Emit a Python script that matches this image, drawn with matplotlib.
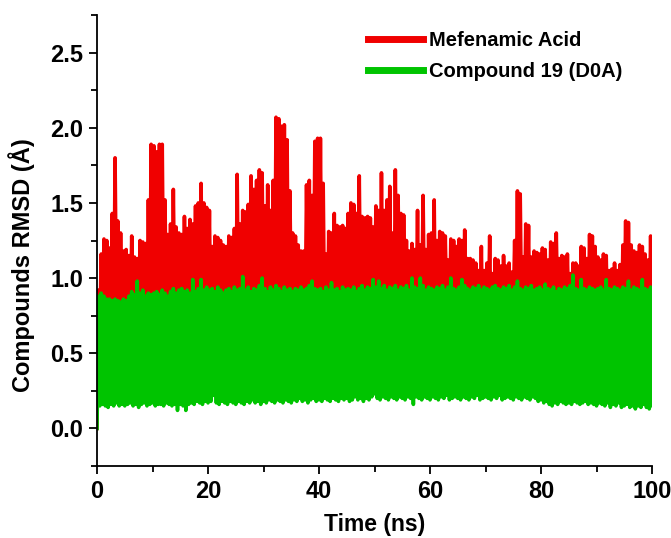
import numpy as np
import matplotlib
matplotlib.use("Agg")
import matplotlib.pyplot as plt
from matplotlib.ticker import MultipleLocator

# time grid (ns), 0.5 ns sampling
time_ns = np.arange(0, 100.01, 0.5)

# Mefenamic Acid RMSD: upper excursions and lower excursions (Å)
red_hi = [
    0.92,1.16,1.26,1.25,1.20,1.43,1.80,1.38,1.30,1.18,
    1.19,1.15,1.28,1.14,1.13,1.25,1.24,1.23,1.52,1.89,
    1.88,1.84,1.89,1.89,1.52,1.29,1.36,1.59,1.34,1.30,
    1.29,1.41,1.33,1.39,1.36,1.48,1.50,1.63,1.50,1.47,
    1.45,1.21,1.28,1.27,1.25,1.22,1.21,1.28,1.27,1.33,
    1.69,1.36,1.45,1.44,1.49,1.68,1.59,1.65,1.72,1.70,
    1.48,1.62,1.45,1.65,2.07,2.06,2.01,2.02,1.92,1.58,
    1.30,1.28,1.22,1.18,1.18,1.62,1.65,1.55,1.91,1.93,
    1.93,1.63,1.16,1.31,1.30,1.43,1.35,1.34,1.35,1.33,
    1.43,1.50,1.49,1.43,1.68,1.41,1.40,1.41,1.40,1.34,
    1.48,1.45,1.70,1.45,1.52,1.61,1.30,1.72,1.55,1.43,
    1.42,1.25,1.18,1.23,1.19,1.45,1.22,1.55,1.19,1.29,
    1.30,1.52,1.25,1.31,1.30,1.28,1.12,1.26,1.25,1.21,
    1.26,1.25,1.32,1.13,1.13,1.12,1.10,1.05,1.21,1.05,
    1.10,1.28,1.03,1.13,1.12,1.08,1.15,1.08,1.10,1.04,
    1.25,1.58,1.56,1.14,1.36,1.35,1.14,1.18,1.17,1.16,
    1.20,1.19,1.12,1.24,1.23,1.30,1.13,1.15,1.14,1.16,
    1.03,1.10,1.10,1.08,1.21,1.20,1.13,1.29,1.28,1.21,
    1.14,1.12,1.16,1.15,1.05,1.06,1.10,1.05,1.09,1.22,
    1.38,1.37,1.22,1.18,1.17,1.22,1.21,1.16,1.12,1.28,
    1.27,
]
red_lo = [
    0.00,0.62,0.71,0.58,0.75,0.66,0.52,0.78,0.60,0.69,
    0.73,0.55,0.68,0.79,0.61,0.70,0.57,0.76,0.64,0.72,
    0.59,0.74,0.66,0.53,0.77,0.63,0.71,0.58,0.80,0.65,
    0.70,0.56,0.75,0.62,0.68,0.79,0.54,0.72,0.66,0.60,
    0.77,0.63,0.58,0.74,0.69,0.55,0.78,0.61,0.71,0.67,
    0.57,0.75,0.64,0.80,0.59,0.70,0.66,0.52,0.76,0.62,
    0.73,0.68,0.56,0.79,0.63,0.71,0.58,0.75,0.65,0.60,
    0.78,0.54,0.69,0.74,0.61,0.67,0.80,0.57,0.72,0.64,
    0.59,0.76,0.66,0.53,0.70,0.78,0.62,0.68,0.55,0.74,
    0.71,0.60,0.77,0.65,0.58,0.73,0.63,0.79,0.56,0.69,
    0.75,0.61,0.67,0.72,0.54,0.78,0.64,0.59,0.76,0.70,
    0.57,0.73,0.66,0.80,0.62,0.68,0.55,0.74,0.71,0.60,
    0.77,0.63,0.58,0.75,0.69,0.53,0.79,0.65,0.72,0.61,
    0.67,0.56,0.76,0.70,0.59,0.74,0.64,0.78,0.62,0.57,
    0.73,0.68,0.55,0.80,0.66,0.71,0.60,0.75,0.63,0.58,
    0.77,0.69,0.54,0.72,0.65,0.79,0.61,0.67,0.56,0.74,
    0.70,0.59,0.76,0.63,0.68,0.57,0.78,0.66,0.71,0.60,
    0.75,0.62,0.55,0.73,0.69,0.58,0.77,0.64,0.80,0.61,
    0.67,0.72,0.56,0.74,0.63,0.70,0.59,0.76,0.65,0.60,
    0.78,0.57,0.71,0.66,0.62,0.75,0.54,0.69,0.73,0.64,
    0.68,
]

# Compound 19 (D0A) RMSD: upper and lower excursions (Å)
green_hi = [
    0.88,0.90,0.88,0.86,0.86,0.85,0.86,0.85,0.84,0.86,
    0.85,0.88,0.91,0.89,0.98,0.90,0.92,0.88,0.90,0.89,
    0.90,0.91,0.89,0.92,0.90,0.88,0.91,0.93,0.90,0.92,
    0.93,0.91,0.92,0.90,0.99,0.91,0.93,0.99,0.92,0.94,
    0.92,0.93,0.91,0.94,0.92,0.90,0.92,0.93,0.91,0.94,
    0.92,0.93,1.01,0.92,0.94,0.91,0.93,0.92,0.95,1.00,
    0.93,0.91,0.94,0.92,0.95,0.93,0.91,0.94,0.92,0.93,
    0.91,0.93,0.92,0.94,0.92,0.93,0.95,0.98,0.93,0.92,
    0.93,0.91,0.94,0.92,0.97,0.92,0.93,0.91,0.94,0.92,
    0.93,0.92,0.94,0.91,0.93,0.95,0.92,0.94,0.93,0.99,
    0.94,0.98,0.93,0.95,0.92,0.94,0.93,0.95,0.92,0.94,
    0.93,0.95,0.92,1.00,0.94,0.93,1.00,0.95,0.92,0.94,
    0.93,0.92,0.94,0.93,0.95,0.92,0.94,1.00,0.93,0.92,
    0.94,0.99,0.95,0.93,0.92,0.94,0.93,0.95,0.92,0.94,
    0.93,0.92,0.94,0.95,0.93,0.92,0.94,0.93,0.95,0.92,
    0.94,0.98,0.93,0.92,0.94,0.93,0.95,0.92,0.93,0.94,
    0.92,0.96,0.93,0.92,0.94,0.91,0.93,0.92,0.94,0.93,
    0.95,1.02,0.93,0.92,0.99,0.93,0.92,0.94,0.93,0.92,
    0.93,0.94,0.92,0.99,0.93,0.92,0.94,0.93,0.92,0.94,
    0.93,0.98,0.92,0.94,0.93,0.92,0.99,0.93,0.92,0.94,
    0.93,
]
green_lo = [
    0.00,0.15,0.16,0.15,0.14,0.16,0.15,0.17,0.15,0.16,
    0.15,0.16,0.17,0.15,0.16,0.14,0.16,0.17,0.15,0.16,
    0.17,0.15,0.16,0.16,0.15,0.17,0.16,0.15,0.16,0.12,
    0.16,0.15,0.12,0.16,0.17,0.16,0.18,0.17,0.16,0.18,
    0.17,0.18,0.22,0.17,0.16,0.18,0.17,0.16,0.18,0.17,
    0.16,0.18,0.17,0.16,0.18,0.17,0.19,0.17,0.18,0.16,
    0.18,0.17,0.19,0.18,0.17,0.19,0.18,0.17,0.19,0.18,
    0.17,0.19,0.18,0.20,0.18,0.19,0.17,0.19,0.20,0.18,
    0.19,0.18,0.20,0.19,0.18,0.20,0.19,0.18,0.20,0.19,
    0.20,0.18,0.19,0.21,0.19,0.20,0.18,0.20,0.19,0.21,
    0.23,0.20,0.19,0.21,0.20,0.19,0.21,0.20,0.19,0.21,
    0.20,0.19,0.21,0.20,0.16,0.21,0.20,0.19,0.21,0.20,
    0.19,0.21,0.20,0.19,0.21,0.20,0.22,0.19,0.20,0.21,
    0.20,0.19,0.21,0.20,0.19,0.21,0.20,0.22,0.19,0.20,
    0.21,0.20,0.19,0.21,0.20,0.22,0.19,0.20,0.21,0.20,
    0.19,0.21,0.20,0.19,0.21,0.20,0.19,0.21,0.20,0.18,
    0.19,0.17,0.18,0.16,0.15,0.17,0.16,0.18,0.17,0.16,
    0.17,0.16,0.18,0.17,0.16,0.17,0.18,0.16,0.17,0.16,
    0.15,0.17,0.16,0.15,0.17,0.14,0.16,0.15,0.17,0.14,
    0.15,0.16,0.14,0.15,0.13,0.15,0.14,0.16,0.14,0.13,
    0.15,
]

x_ticks = [0, 20, 40, 60, 80, 100]
y_ticks = [0.0, 0.5, 1.0, 1.5, 2.0, 2.5]
series_labels = ["Mefenamic Acid", "Compound 19 (D0A)"]
red_color = "#f00000"
green_color = "#00c400"

plt.rcParams['font.family'] = ['Liberation Sans', 'DejaVu Sans']
plt.rcParams['font.weight'] = 'bold'

fig = plt.figure(figsize=(6.71, 5.38), dpi=100)
ax = fig.add_axes([0.1446, 0.1338, 0.8271, 0.8383])

def interleave(lo, hi):
    t = np.column_stack([time_ns, time_ns + 0.25]).ravel()
    v = np.column_stack([np.asarray(lo), np.asarray(hi)]).ravel()
    return t, v

tr, vr = interleave(red_lo, red_hi)
tg, vg = interleave(green_lo, green_hi)
ax.plot(tr, vr, color=red_color, lw=2.6, label=series_labels[0])
ax.plot(tg, vg, color=green_color, lw=2.6, label=series_labels[1])

ax.set_xlim(0, 100)
ax.set_ylim(-0.25, 2.75)
ax.set_xticks(x_ticks)
ax.set_yticks(y_ticks)
ax.set_yticklabels([f"{v:.1f}" for v in y_ticks])
ax.xaxis.set_minor_locator(MultipleLocator(10))
ax.yaxis.set_minor_locator(MultipleLocator(0.25))
ax.tick_params(axis='both', which='major', direction='out', length=6, width=1.3,
               labelsize=17, pad=4)
ax.tick_params(axis='both', which='minor', direction='out', length=4, width=1.3)
for lab in ax.get_xticklabels() + ax.get_yticklabels():
    lab.set_fontweight('bold')

for s in ['top', 'right']:
    ax.spines[s].set_visible(False)
for s in ['left', 'bottom']:
    ax.spines[s].set_linewidth(1.3)

ax.set_xlabel("Time (ns)", fontsize=16.5, fontweight='bold')
ax.xaxis.set_label_coords(0.5, -0.105)
ax.set_ylabel("Compounds RMSD (Å)", fontsize=17, fontweight='bold')
ax.yaxis.set_label_coords(-0.112, 0.446)

leg = ax.legend(loc='upper left', bbox_to_anchor=(0.488, 0.965), frameon=False,
                fontsize=14.5, handlelength=2.75, handletextpad=0.3,
                labelspacing=0.6, borderpad=0, borderaxespad=0)
for line in leg.get_lines():
    line.set_linewidth(5)
for t in leg.get_texts():
    t.set_fontweight('bold')

fig.savefig("out.png", dpi=100)
